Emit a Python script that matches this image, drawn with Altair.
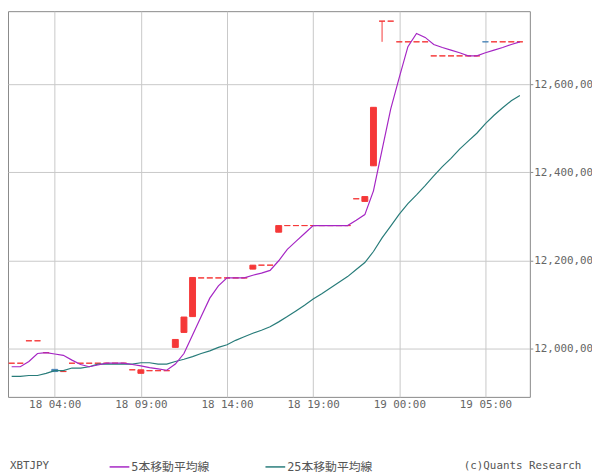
import altair as alt
import pandas as pd

# ---- data (30-minute candles, XBTJPY) ----
times = pd.date_range("2018-01-18 01:30", periods=60, freq="30min")

opens = [11966, 11966, 12017, 12017, 11990, 11952, 11947, 11966, 11966, 11966,
         11966, 11966, 11966, 11966, 11951, 11943, 11949, 11949, 11949, 12002,
         12036, 12072, 12160, 12160, 12160, 12160, 12160, 12160, 12180, 12189,
         12189, 12264, 12279, 12279, 12279, 12279, 12279, 12279, 12279, 12279,
         12340, 12334, 12415, 12744, 12744, 12697, 12697, 12697, 12697, 12665,
         12665, 12665, 12665, 12665, 12665, 12697, 12697, 12697, 12697, 12697]
closes = [11966, 11966, 12017, 12017, 11990, 11947, 11947, 11966, 11966, 11966,
          11966, 11966, 11966, 11966, 11951, 11951, 11949, 11949, 11949, 12020,
          12071, 12161, 12160, 12160, 12160, 12160, 12160, 12160, 12189, 12189,
          12189, 12279, 12279, 12279, 12279, 12279, 12279, 12279, 12279, 12279,
          12340, 12345, 12548, 12744, 12744, 12697, 12697, 12697, 12697, 12665,
          12665, 12665, 12665, 12665, 12665, 12697, 12697, 12697, 12697, 12697]
highs = [11966, 11966, 12017, 12017, 11990, 11952, 11947, 11966, 11966, 11966,
         11966, 11966, 11966, 11966, 11951, 11951, 11949, 11949, 11949, 12020,
         12071, 12161, 12160, 12160, 12160, 12160, 12160, 12160, 12189, 12189,
         12189, 12279, 12279, 12279, 12279, 12279, 12279, 12279, 12279, 12279,
         12340, 12345, 12548, 12744, 12744, 12697, 12697, 12697, 12697, 12665,
         12665, 12665, 12665, 12665, 12665, 12697, 12697, 12697, 12697, 12697]
lows = [11966, 11966, 12017, 12017, 11990, 11947, 11947, 11966, 11966, 11966,
        11966, 11966, 11966, 11966, 11951, 11943, 11949, 11949, 11949, 12002,
        12036, 12072, 12160, 12160, 12160, 12160, 12160, 12160, 12180, 12189,
        12189, 12264, 12279, 12279, 12279, 12279, 12279, 12279, 12279, 12279,
        12340, 12334, 12415, 12697, 12744, 12697, 12697, 12697, 12697, 12665,
        12665, 12665, 12665, 12665, 12665, 12697, 12697, 12697, 12697, 12697]
direction = ["up"] * 60
direction[5] = "down"
direction[55] = "down"

ma5 = [11958, 11958, 11970, 11988, 11990, 11987, 11984, 11973, 11963, 11958,
       11962, 11966, 11966, 11966, 11963, 11960, 11956, 11953, 11950, 11964,
       11988, 12030, 12072, 12114, 12142, 12160, 12160, 12160, 12166, 12171,
       12177, 12199, 12225, 12243, 12261, 12279, 12279, 12279, 12279, 12279,
       12291, 12304, 12358, 12451, 12544, 12616, 12686, 12716, 12707, 12691,
       12684, 12678, 12672, 12665, 12665, 12672, 12678, 12684, 12691, 12697]
ma25 = [11936, 11936, 11938, 11938, 11943, 11949, 11949, 11955, 11955, 11958,
        11964, 11964, 11964, 11964, 11964, 11967, 11967, 11964, 11964, 11970,
        11975, 11981, 11988, 11994, 12002, 12008, 12018, 12026, 12034, 12041,
        12049, 12060, 12072, 12085, 12098, 12112, 12124, 12137, 12150, 12163,
        12179, 12195, 12220, 12251, 12278, 12305, 12329, 12349, 12370, 12392,
        12413, 12432, 12453, 12471, 12489, 12511, 12530, 12547, 12563, 12575]

L5 = "5本移動平均線"
L25 = "25本移動平均線"
SYMBOL = "XBTJPY"
CREDIT = "(c)Quants Research"
y_ticks = [12000, 12200, 12400, 12600]

candles = pd.DataFrame({"time": times, "open": opens, "close": closes,
                        "high": highs, "low": lows, "dir": direction})
ma = pd.concat([
    pd.DataFrame({"time": times, "value": ma25, "series": L25}),
    pd.DataFrame({"time": times, "value": ma5, "series": L5}),
], ignore_index=True)

# ---- styles ----
FONT = "DejaVu Sans Mono, Noto Sans CJK JP"
RED = "#f53838"
BLUE = "#4a86b8"
PURPLE = "#a526c4"
TEAL = "#287c7a"
GRID = "#c8c8c8"
LABEL = "#666666"

x_enc = alt.X(
    "time:T",
    scale=alt.Scale(domain=[
        alt.DateTime(year=2018, month=1, date=18, hours=1, minutes=34, seconds=24),
        alt.DateTime(year=2018, month=1, date=19, hours=7, minutes=17, seconds=30),
    ]),
    axis=alt.Axis(
        values=[
            alt.DateTime(year=2018, month=1, date=18, hours=4),
            alt.DateTime(year=2018, month=1, date=18, hours=9),
            alt.DateTime(year=2018, month=1, date=18, hours=14),
            alt.DateTime(year=2018, month=1, date=18, hours=19),
            alt.DateTime(year=2018, month=1, date=19, hours=0),
            alt.DateTime(year=2018, month=1, date=19, hours=5),
        ],
        format="%d %H:%M", title=None, grid=True, gridColor=GRID, ticks=False,
        domain=False, labelPadding=2, labelFont=FONT, labelFontSize=11,
        labelColor=LABEL, labelFlush=False, labelOverlap=False,
    ),
)


def y_enc(field):
    return alt.Y(
        field,
        type="quantitative",
        scale=alt.Scale(domain=[11889.4, 12766.7], nice=False, zero=False),
        axis=alt.Axis(
            orient="right", values=y_ticks,
            labelExpr="format(datum.value, ',') + ',00'",
            title=None, grid=True, gridColor=GRID, tickSize=3, tickColor="#888888",
            domain=False, labelPadding=1, labelFont=FONT, labelFontSize=11,
            labelColor=LABEL,
        ),
    )


cond_color = alt.condition("datum.dir == 'down'", alt.value(BLUE), alt.value(RED))

bodies = alt.Chart(candles).mark_bar(size=6, strokeWidth=1, clip=True).encode(
    x=x_enc, y=y_enc("open"), y2="close", color=cond_color, stroke=cond_color)

wicks = alt.Chart(candles).mark_rule(strokeWidth=1, clip=True).encode(
    x=x_enc, y=y_enc("low"), y2="high", color=cond_color)

color_enc = alt.Color(
    "series:N",
    scale=alt.Scale(domain=[L5, L25], range=[PURPLE, TEAL]),
    legend=alt.Legend(
        title=None, orient="none", legendX=102, legendY=451,
        direction="horizontal", symbolType="stroke", symbolSize=400,
        symbolStrokeWidth=1.5, labelFont=FONT, labelFontSize=12,
        labelColor="#555555", labelOffset=1, columnPadding=53, padding=0,
    ),
)

teal_line = alt.Chart(ma).transform_filter(alt.datum.series == L25).mark_line(
    strokeWidth=1.2, clip=True).encode(x=x_enc, y=y_enc("value"), color=color_enc)
purple_line = alt.Chart(ma).transform_filter(alt.datum.series == L5).mark_line(
    strokeWidth=1.2, clip=True).encode(x=x_enc, y=y_enc("value"), color=color_enc)

sym_text = alt.Chart(pd.DataFrame({"t": [SYMBOL]})).mark_text(
    align="left", baseline="middle", font=FONT, fontSize=11, color="#555555"
).encode(x=alt.value(2), y=alt.value(461), text="t:N")

credit_text = alt.Chart(pd.DataFrame({"t": [CREDIT]})).mark_text(
    align="left", baseline="middle", font=FONT, fontSize=11, color="#555555"
).encode(x=alt.value(462), y=alt.value(461), text="t:N")

chart = alt.layer(bodies, wicks, teal_line, purple_line, sym_text, credit_text).properties(
    width=529, height=391,
    padding={"left": 0, "top": 0, "right": 63, "bottom": 78},
    autosize=alt.AutoSizeParams(type="none"),
).configure_view(stroke="#888888", strokeWidth=1)

chart.save("out.html", embed_options={"renderer": "svg", "actions": False})
